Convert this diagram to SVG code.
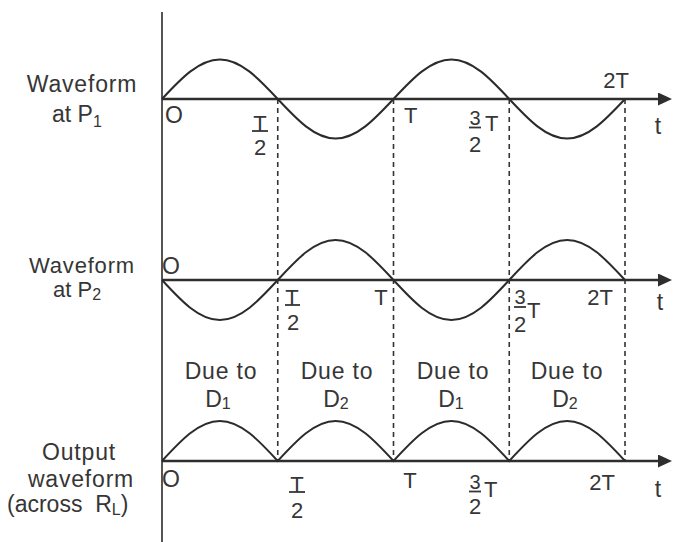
<svg xmlns="http://www.w3.org/2000/svg" width="674" height="542" viewBox="0 0 674 542">
<style>
text { font-family: "Liberation Sans", Arial, sans-serif; fill: #363636; }
.lbl { font-size: 23px; text-anchor: middle; letter-spacing: 0.8px; }
.tk { font-size: 22px; }
.c { text-anchor: middle; }
.sub { font-size: 16px; }
.axis { stroke: #2e2e2e; stroke-width: 2.5; fill: none; }
.vaxis { stroke: #555; stroke-width: 2; fill: none; }
.dash { stroke: #333; stroke-width: 1.6; stroke-dasharray: 5 4; fill: none; }
.wave { stroke: #2b2b2b; stroke-width: 2; fill: none; }
.bar { stroke: #363636; stroke-width: 1.8; }
</style>
<defs>
<marker id="arr" markerUnits="userSpaceOnUse" markerWidth="14" markerHeight="13" refX="2" refY="6.5" orient="auto">
<path d="M0,0 L14,6.5 L0,13 z" fill="#2e2e2e"/>
</marker>
</defs>
<rect width="674" height="542" fill="#ffffff"/>

<g id="connectors">
<line class="vaxis" x1="162" y1="12" x2="162" y2="542"/>
<line class="axis" x1="162" y1="99" x2="660" y2="99" marker-end="url(#arr)"/>
<line class="axis" x1="162" y1="280" x2="660" y2="280" marker-end="url(#arr)"/>
<line class="axis" x1="162" y1="461" x2="660" y2="461" marker-end="url(#arr)"/>
<line class="dash" x1="277.75" y1="99" x2="277.75" y2="461"/>
<line class="dash" x1="393.5" y1="99" x2="393.5" y2="461"/>
<line class="dash" x1="509.25" y1="99" x2="509.25" y2="461"/>
<line class="dash" x1="625" y1="99" x2="625" y2="461"/>
</g>

<g id="waves">
<path id="wave-p1" class="wave" d="M162,99 c 18.87,-20.24 36.93,-39.5 57.875,-39.5 c 20.945,0 39,19.26 57.875,39.5 c 18.87,20.24 36.93,39.5 57.875,39.5 c 20.945,0 39,-19.26 57.875,-39.5 c 18.87,-20.24 36.93,-39.5 57.875,-39.5 c 20.945,0 39,19.26 57.875,39.5 c 18.87,20.24 36.93,39.5 57.875,39.5 c 20.945,0 39,-19.26 57.875,-39.5"/>
<path id="wave-p2" class="wave" d="M162,280 c 18.87,20.49 36.93,40 57.875,40 c 20.945,0 39,-19.51 57.875,-40 c 18.87,-20.49 36.93,-40 57.875,-40 c 20.945,0 39,19.51 57.875,40 c 18.87,20.49 36.93,40 57.875,40 c 20.945,0 39,-19.51 57.875,-40 c 18.87,-20.49 36.93,-40 57.875,-40 c 20.945,0 39,19.51 57.875,40"/>
<path id="wave-out" class="wave" d="M162,461 c 18.87,-20.49 36.93,-40 57.875,-40 c 20.945,0 39,19.51 57.875,40 c 18.87,-20.49 36.93,-40 57.875,-40 c 20.945,0 39,19.51 57.875,40 c 18.87,-20.49 36.93,-40 57.875,-40 c 20.945,0 39,19.51 57.875,40 c 18.87,-20.49 36.93,-40 57.875,-40 c 20.945,0 39,19.51 57.875,40"/>
</g>

<g id="label-p1">
<text class="lbl" x="82" y="92">Waveform</text>
<text style="font-size:23px" x="52" y="122">at P<tspan class="sub" dy="5">1</tspan></text>
</g>
<g id="label-p2">
<text class="lbl" style="font-size:22px" x="82" y="273">Waveform</text>
<text style="font-size:22px" x="53" y="297">at P<tspan class="sub" dy="3">2</tspan></text>
</g>
<g id="label-out">
<text class="lbl" x="79" y="460">Output</text>
<text class="lbl" x="81" y="487">waveform</text>
<text style="font-size:23px" x="7" y="512">(across&#160; R<tspan class="sub" dy="3">L</tspan><tspan dy="-3">)</tspan></text>
</g>

<g id="ticks-p1">
<text class="tk c" style="font-size:23px" x="174" y="123">O</text>
<text class="tk c" x="260" y="131">T</text>
<line class="bar" x1="252" y1="131" x2="268" y2="131"/>
<text class="tk c" x="260" y="155">2</text>
<text class="tk" x="404" y="123">T</text>
<text class="tk c" style="font-size:20px" x="475" y="125">3</text>
<line class="bar" x1="469" y1="127.5" x2="481" y2="127.5"/>
<text class="tk c" x="475" y="152">2</text>
<text class="tk" x="485" y="131">T</text>
<text class="tk c" x="616" y="88">2T</text>
<text class="tk c" style="font-size:23px" x="658" y="134">t</text>
</g>

<g id="ticks-p2">
<text class="tk c" style="font-size:23px" x="171" y="274">O</text>
<text class="tk c" x="292" y="305">T</text>
<line class="bar" x1="285" y1="305" x2="300" y2="305"/>
<text class="tk c" x="293" y="330">2</text>
<text class="tk c" x="381" y="305">T</text>
<text class="tk c" style="font-size:20px" x="520" y="304">3</text>
<line class="bar" x1="514" y1="307" x2="526" y2="307"/>
<text class="tk c" x="520" y="332">2</text>
<text class="tk" x="527" y="318">T</text>
<text class="tk c" x="600" y="305">2T</text>
<text class="tk c" style="font-size:23px" x="660" y="310">t</text>
</g>

<g id="ticks-out">
<text class="tk c" style="font-size:23px" x="171" y="487">O</text>
<text class="tk c" x="297" y="492">T</text>
<line class="bar" x1="289" y1="492" x2="305" y2="492"/>
<text class="tk c" x="297" y="518">2</text>
<text class="tk c" x="410" y="488">T</text>
<text class="tk c" style="font-size:20px" x="475" y="489">3</text>
<line class="bar" x1="469" y1="491.5" x2="481" y2="491.5"/>
<text class="tk c" x="475" y="514">2</text>
<text class="tk" x="484" y="497">T</text>
<text class="tk c" x="602" y="490">2T</text>
<text class="tk c" style="font-size:23px" x="658" y="497">t</text>
</g>

<g id="due-1">
<text class="lbl" x="221" y="379">Due to</text>
<text class="lbl" style="letter-spacing:0" x="218" y="407">D<tspan class="sub" dy="2">1</tspan></text>
</g>
<g id="due-2">
<text class="lbl" x="337" y="379">Due to</text>
<text class="lbl" style="letter-spacing:0" x="336" y="407">D<tspan class="sub" dy="2">2</tspan></text>
</g>
<g id="due-3">
<text class="lbl" x="453" y="379">Due to</text>
<text class="lbl" style="letter-spacing:0" x="451" y="407">D<tspan class="sub" dy="2">1</tspan></text>
</g>
<g id="due-4">
<text class="lbl" x="567" y="379">Due to</text>
<text class="lbl" style="letter-spacing:0" x="565" y="407">D<tspan class="sub" dy="2">2</tspan></text>
</g>
</svg>
